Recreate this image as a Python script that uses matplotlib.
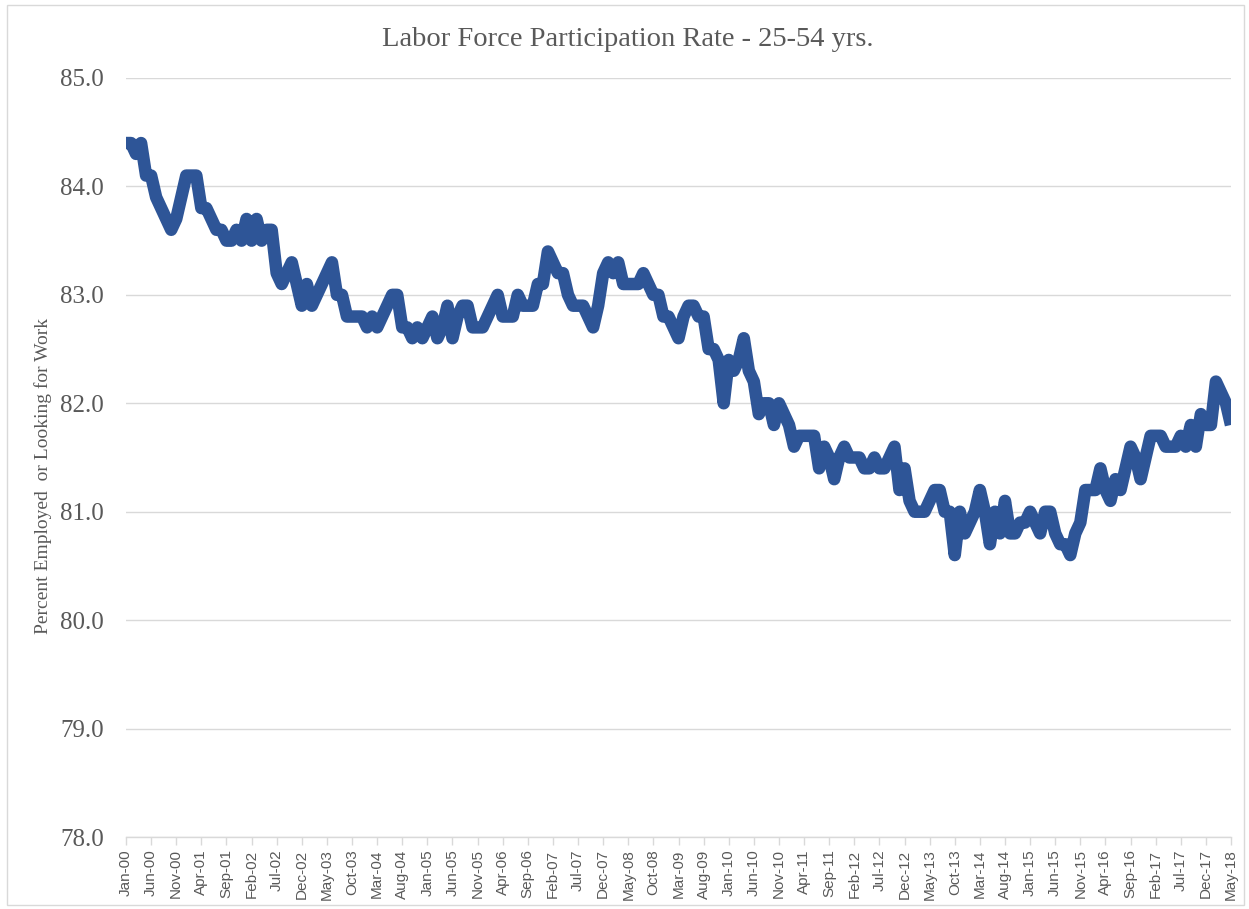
import matplotlib
matplotlib.use("Agg")
import matplotlib.pyplot as plt
import pandas as pd
from matplotlib.patches import Rectangle

# Monthly labor force participation rate, 25-54 yrs, Jan-2000 .. May-2018
rate_2000 = [84.4, 84.4, 84.3, 84.4, 84.1, 84.1, 83.9, 83.8, 83.7, 83.6, 83.7, 83.9]
rate_2001 = [84.1, 84.1, 84.1, 83.8, 83.8, 83.7, 83.6, 83.6, 83.5, 83.5, 83.6, 83.5]
rate_2002 = [83.7, 83.5, 83.7, 83.5, 83.6, 83.6, 83.2, 83.1, 83.2, 83.3, 83.1, 82.9]
rate_2003 = [83.1, 82.9, 83.0, 83.1, 83.2, 83.3, 83.0, 83.0, 82.8, 82.8, 82.8, 82.8]
rate_2004 = [82.7, 82.8, 82.7, 82.8, 82.9, 83.0, 83.0, 82.7, 82.7, 82.6, 82.7, 82.6]
rate_2005 = [82.7, 82.8, 82.6, 82.7, 82.9, 82.6, 82.8, 82.9, 82.9, 82.7, 82.7, 82.7]
rate_2006 = [82.8, 82.9, 83.0, 82.8, 82.8, 82.8, 83.0, 82.9, 82.9, 82.9, 83.1, 83.1]
rate_2007 = [83.4, 83.3, 83.2, 83.2, 83.0, 82.9, 82.9, 82.9, 82.8, 82.7, 82.9, 83.2]
rate_2008 = [83.3, 83.2, 83.3, 83.1, 83.1, 83.1, 83.1, 83.2, 83.1, 83.0, 83.0, 82.8]
rate_2009 = [82.8, 82.7, 82.6, 82.8, 82.9, 82.9, 82.8, 82.8, 82.5, 82.5, 82.4, 82.0]
rate_2010 = [82.4, 82.3, 82.4, 82.6, 82.3, 82.2, 81.9, 82.0, 82.0, 81.8, 82.0, 81.9]
rate_2011 = [81.8, 81.6, 81.7, 81.7, 81.7, 81.7, 81.4, 81.6, 81.5, 81.3, 81.5, 81.6]
rate_2012 = [81.5, 81.5, 81.5, 81.4, 81.4, 81.5, 81.4, 81.4, 81.5, 81.6, 81.2, 81.4]
rate_2013 = [81.1, 81.0, 81.0, 81.0, 81.1, 81.2, 81.2, 81.0, 81.0, 80.6, 81.0, 80.8]
rate_2014 = [80.9, 81.0, 81.2, 81.0, 80.7, 81.0, 80.8, 81.1, 80.8, 80.8, 80.9, 80.9]
rate_2015 = [81.0, 80.9, 80.8, 81.0, 81.0, 80.8, 80.7, 80.7, 80.6, 80.8, 80.9, 81.2]
rate_2016 = [81.2, 81.2, 81.4, 81.2, 81.1, 81.3, 81.2, 81.4, 81.6, 81.5, 81.3, 81.5]
rate_2017 = [81.7, 81.7, 81.7, 81.6, 81.6, 81.6, 81.7, 81.6, 81.8, 81.6, 81.9, 81.8]
rate_2018 = [81.8, 82.2, 82.1, 82.0, 81.8]

rates = (rate_2000 + rate_2001 + rate_2002 + rate_2003 + rate_2004 + rate_2005 +
         rate_2006 + rate_2007 + rate_2008 + rate_2009 + rate_2010 + rate_2011 +
         rate_2012 + rate_2013 + rate_2014 + rate_2015 + rate_2016 + rate_2017 +
         rate_2018)

months = pd.date_range("2000-01-01", periods=len(rates), freq="MS")
month_labels = [d.strftime("%b-%y") for d in months]
tick_step = 5
y_ticks = [78.0, 79.0, 80.0, 81.0, 82.0, 83.0, 84.0, 85.0]

title = "Labor Force Participation Rate - 25-54 yrs."
y_label = "Percent Employed  or Looking for Work"

fig = plt.figure(figsize=(12.49, 9.09), dpi=100)
ax = fig.add_axes([126 / 1249, 1 - 837 / 909, 1105 / 1249, (837 - 78) / 909])

x = list(range(len(rates)))
ax.plot(x, rates, color="#2E5597", linewidth=9.0, solid_joinstyle="round",
        solid_capstyle="butt", zorder=3)

ax.set_xlim(0, len(rates) - 1)
ax.set_ylim(78, 85)
ax.set_yticks(y_ticks)
ax.set_yticklabels([f"{v:.1f}" for v in y_ticks], fontfamily="Liberation Serif",
                   fontsize=18, color="#595959")
ax.set_xticks(x[::tick_step])
ax.set_xticklabels(month_labels[::tick_step], rotation=90, fontfamily="Liberation Sans",
                   fontsize=11, color="#595959")

ax.grid(axis="y", color="#D9D9D9", linewidth=1.0, zorder=0)
ax.tick_params(axis="y", length=0, pad=16)
ax.tick_params(axis="x", length=6, color="#D9D9D9", width=1, pad=3)
for s in ["top", "right", "left"]:
    ax.spines[s].set_visible(False)
ax.spines["bottom"].set_color("#D9D9D9")
ax.spines["bottom"].set_linewidth(1.0)
ax.set_axisbelow(True)

fig.text(628 / 1249, 1 - 40 / 909, title, ha="center", va="center",
         fontfamily="Liberation Serif", fontsize=20.5, color="#595959")
fig.text(43 / 1249, 1 - 476 / 909, y_label, ha="center", va="center", rotation=90,
         fontfamily="Liberation Serif", fontsize=14, color="#595959")

fig.patches.append(Rectangle((7 / 1249, 4 / 909), 1 - 12 / 1249, 1 - 9 / 909,
                             transform=fig.transFigure, fill=False,
                             edgecolor="#D9D9D9", linewidth=1.0))

fig.savefig("out.png", dpi=100)
